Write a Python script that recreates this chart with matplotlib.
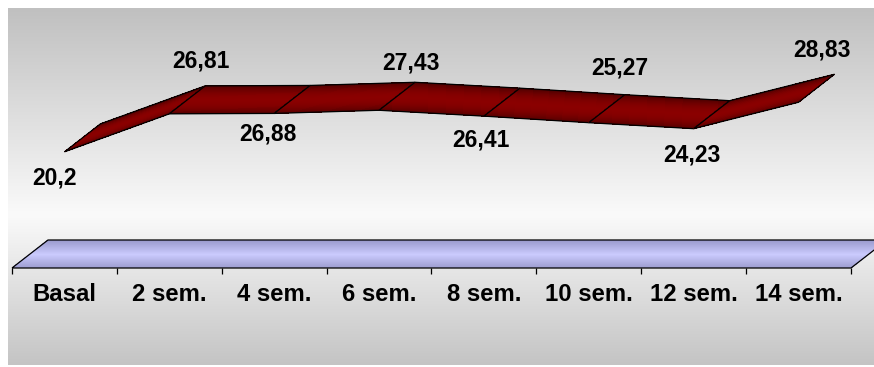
import numpy as np
import matplotlib
matplotlib.use('Agg')
import matplotlib.pyplot as plt
from matplotlib.patches import Polygon
from matplotlib.transforms import IdentityTransform

# ---------------- data ----------------
categories = ['Basal', '2 sem.', '4 sem.', '6 sem.', '8 sem.', '10 sem.', '12 sem.', '14 sem.']
values = [20.2, 26.81, 26.88, 27.43, 26.41, 25.27, 24.23, 28.83]
value_labels = ['20,2', '26,81', '26,88', '27,43', '26,41', '25,27', '24,23', '28,83']

# label placement (style): anchor on back edge or front edge, pixel offsets (screen, y down)
label_at_back = [False, True, False, True, False, True, False, True]
label_dx = [-10, -4, -6, -4, -3, -5, -2, -13]
label_dy = [24, -27, 19, -21, 22, -28, 25, -26]

W, H, DPI = 874, 367, 100
DX, DY = 36, 28          # 3-D depth offset in pixels (display, y up)
FONT = 'Liberation Sans'

fig = plt.figure(figsize=(W / DPI, H / DPI), dpi=DPI, facecolor='white')

# ---------------- background gradient ----------------
bg = fig.add_axes([0, 0, 1, 1], zorder=0)
bg.set_xlim(0, W)
bg.set_ylim(H, 0)
bg.axis('off')
ys = np.linspace(8, 365, 400)
g = np.interp(ys, [8, 215, 365], [192, 250, 196]) / 255.0
img = np.dstack([np.repeat(g[:, None], 2, axis=1)] * 3)
bg.imshow(img, extent=(8, W, 365, 8), aspect='auto', interpolation='bilinear')

# ---------------- main axes ----------------
left_px, right_px, top_px, bottom_px = 12, 851, 8, 268
px_per_unit = 5.75
ax = fig.add_axes([left_px / W, (H - bottom_px) / H,
                   (right_px - left_px) / W, (bottom_px - top_px) / H], zorder=1)
ax.set_xlim(-0.5, len(categories) - 0.5)
ax.set_ylim(0, (bottom_px - top_px) / px_per_unit)
ax.patch.set_visible(False)
for s in ax.spines.values():
    s.set_visible(False)
ax.set_yticks([])
ax.set_xticks(np.arange(len(categories)))
ax.set_xticklabels(categories, fontsize=17.2, fontweight='bold', family=FONT)
ax.set_xticks(np.arange(-0.5, len(categories), 1.0), minor=True)
ax.tick_params(axis='x', which='major', length=0, pad=11)
ax.tick_params(axis='x', which='minor', length=4.5, width=0.9, direction='out', color='black')

D = np.array([DX, DY], dtype=float)
NS = 30
ident = IdentityTransform()


def strip_polys(p0, p1, color_fn, zorder):
    for k in range(NS):
        t0, t1 = k / NS, (k + 1) / NS
        tm = (t0 + t1) / 2
        poly = [p0 + t0 * D, p1 + t0 * D, p1 + t1 * D, p0 + t1 * D]
        ax.add_patch(Polygon(poly, closed=True, facecolor=color_fn(tm), edgecolor='none',
                             linewidth=0, antialiased=False, transform=ident,
                             clip_on=False, zorder=zorder))
    outline = [p0, p1, p1 + D, p0 + D]
    ax.add_patch(Polygon(outline, closed=True, facecolor='none', edgecolor='black',
                         linewidth=0.9, transform=ident, clip_on=False, zorder=zorder + 0.5))


def floor_color(t):
    prof = np.interp(t, [0, 0.5, 1], [0.0, 1.0, 0.0])
    r = 0.60 + 0.20 * prof
    return (r, r, 0.80 + 0.20 * prof)


def ribbon_color(t):
    prof = np.sin(np.pi * t) ** 0.7
    r = 0.30 + 0.24 * prof
    return (r, 0.0, 0.0)


# floor
fl = ax.transData.transform(np.array([[-0.5, 0.0], [len(categories) - 0.5, 0.0]]))
strip_polys(fl[0], fl[1], floor_color, 2)

# ribbon
x = np.arange(len(values))
front = ax.transData.transform(np.column_stack([x, values]))
for i in range(len(values) - 1):
    strip_polys(front[i], front[i + 1], ribbon_color, 3 + i)

# data labels
cap_half = 8.3
for i, (v, lbl) in enumerate(zip(values, value_labels)):
    ox = label_dx[i] + (DX if label_at_back[i] else 0)
    oy = -label_dy[i] - cap_half + (DY if label_at_back[i] else 0)
    ax.annotate(lbl, xy=(i, v), xytext=(ox, oy), textcoords='offset pixels',
                ha='center', va='baseline', fontsize=16.5, fontweight='bold',
                family=FONT, color='black', zorder=20, annotation_clip=False)

fig.savefig('out.png', dpi=DPI, facecolor='white')
